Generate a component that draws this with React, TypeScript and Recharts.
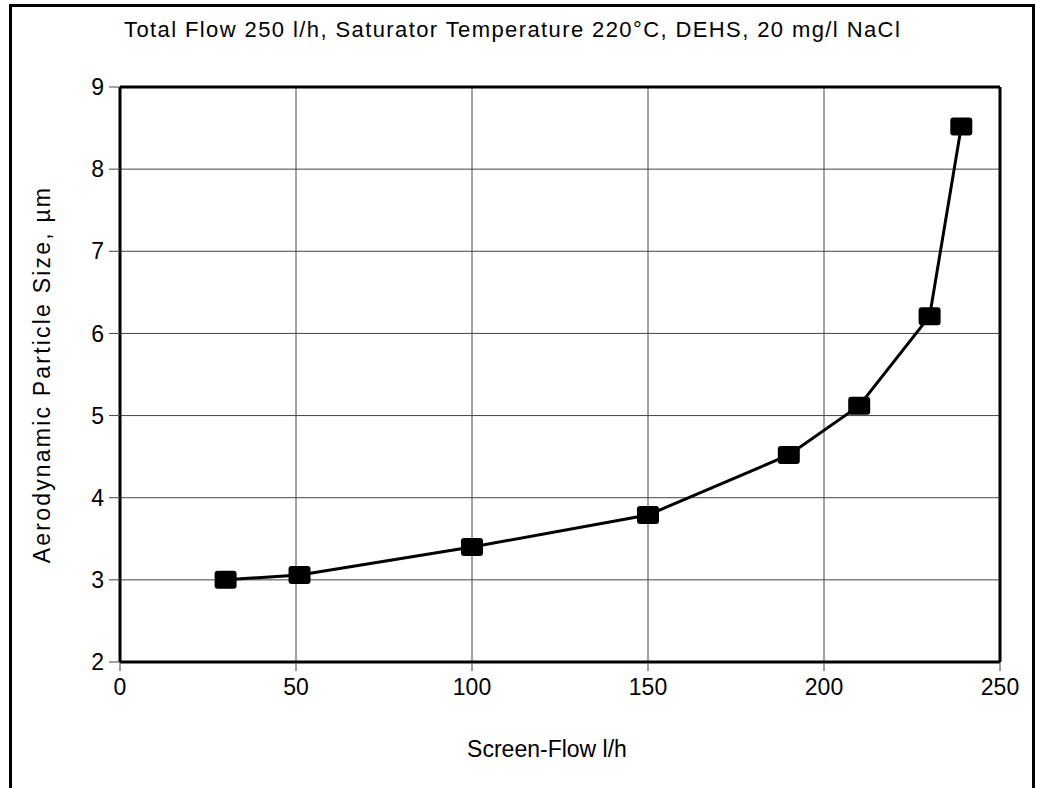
import { LineChart, Line, XAxis, YAxis, CartesianGrid, ReferenceLine } from 'recharts'

const screenFlow = [30, 51, 100, 150, 190, 210, 230, 239]
const particleSize = [3.0, 3.06, 3.4, 3.79, 4.52, 5.12, 6.21, 8.52]
const xTicks = [0, 50, 100, 150, 200, 250]
const yTicks = [2, 3, 4, 5, 6, 7, 8, 9]

const title = 'Total Flow 250 l/h, Saturator Temperature 220°C, DEHS, 20 mg/l NaCl'
const xLabel = 'Screen-Flow l/h'
const yLabel = 'Aerodynamic Particle Size, µm'

const data = screenFlow.map((x, i) => ({ x, y: particleSize[i] }))

const font = 'Liberation Sans, Arial, sans-serif'

function SquareDot(props: any) {
  const { cx, cy } = props
  if (cx == null || cy == null) return null
  return <rect x={cx - 11} y={cy - 9} width={22} height={18} rx={3} fill="#000" />
}

export default function App() {
  return <div style={{ position: 'fixed', left: 0, top: 0, width: 1037, height: 788, background: '#fff', fontFamily: font, overflow: 'hidden' }}>
    <div style={{ position: 'absolute', left: 9, top: 4, width: 1026, height: 820, border: '3px solid #000', boxSizing: 'border-box' }} />
    <div style={{ position: 'absolute', left: 124, top: 17, fontSize: 22, letterSpacing: 1.4, whiteSpace: 'nowrap', color: '#000' }}>{title}</div>
    <LineChart width={1037} height={788} data={data} margin={{ top: 87, right: 37, left: 10, bottom: 76 }}>
      <CartesianGrid stroke="#444" strokeWidth={1} />
      <XAxis dataKey="x" type="number" domain={[0, 250]} ticks={xTicks} interval={0}
        axisLine={{ stroke: '#000', strokeWidth: 3 }} tickLine={{ stroke: '#444' }} tickSize={9} tickMargin={8}
        height={50} tick={{ fill: '#000', fontSize: 23, fontFamily: font }}
        label={{ value: xLabel, position: 'bottom', offset: 29, dx: -13, fill: '#000', fontSize: 23, fontFamily: font }} />
      <YAxis type="number" domain={[2, 9]} ticks={yTicks} interval={0}
        axisLine={{ stroke: '#000', strokeWidth: 3 }} tickLine={{ stroke: '#444' }} tickSize={11} tickMargin={5}
        width={110} tick={{ fill: '#000', fontSize: 23, fontFamily: font }}
        label={{ value: yLabel, angle: -90, position: 'insideLeft', offset: 32, fill: '#000', fontSize: 23, fontFamily: font, style: { textAnchor: 'middle', letterSpacing: 2.2 } }} />
      <ReferenceLine y={9} stroke="#000" strokeWidth={3} />
      <ReferenceLine x={250} stroke="#000" strokeWidth={3} />
      <Line dataKey="y" stroke="#000" strokeWidth={3} dot={<SquareDot />} activeDot={false} isAnimationActive={false} />
    </LineChart>
  </div>
}
